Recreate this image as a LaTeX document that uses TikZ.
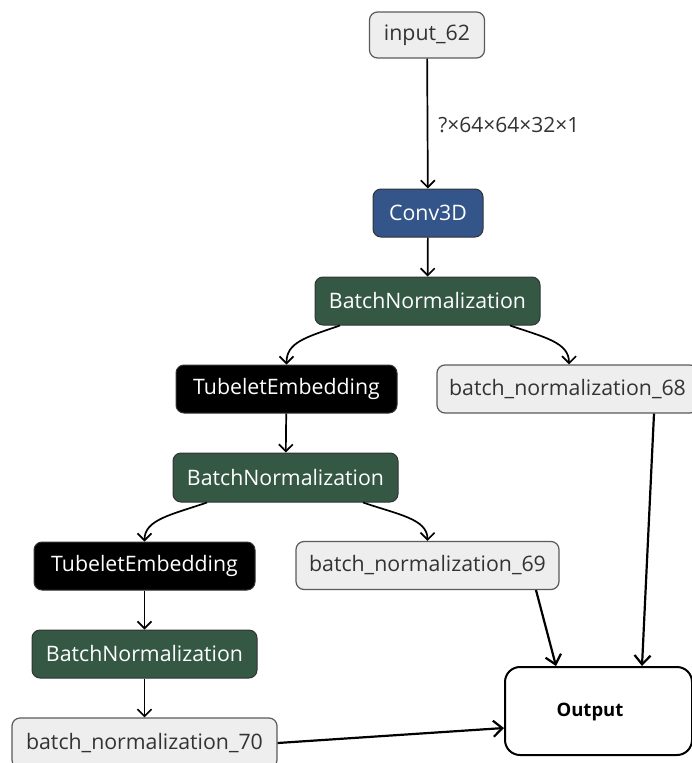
\documentclass[tikz,border=0pt]{standalone}
\usepackage{fontspec}
\setmainfont{Open Sans}
\usetikzlibrary{arrows.meta}
\definecolor{convblue}{HTML}{33558A}
\definecolor{bngreen}{HTML}{345844}
\definecolor{lightfill}{HTML}{EEEEEE}
\definecolor{edgegray}{HTML}{5A5A5A}
\definecolor{txtgray}{HTML}{333333}
\tikzset{
  nodefont/.style={font=\fontsize{21.3}{24}\selectfont},
  layer/.style={rounded corners=8pt, draw=txtgray, line width=1pt, minimum height=48pt, inner sep=0pt, text=white, nodefont},
  tensor/.style={rounded corners=8pt, draw=edgegray, fill=lightfill, line width=1.2pt, minimum height=48pt, inner sep=0pt, text=txtgray, nodefont},
  conv/.style={layer, fill=convblue, minimum width=110pt},
  bnorm/.style={layer, fill=bngreen, minimum width=225pt},
  tubelet/.style={layer, fill=black, minimum width=221pt},
  outbox/.style={rounded corners=15pt, draw=black, line width=2pt, fill=white, minimum width=187pt, minimum height=88pt, inner sep=0pt},
  flow/.style={-{Straight Barb[length=7pt,width=14pt]}, line width=1.7pt, black},
  merge/.style={-{Straight Barb[length=9pt,width=16pt]}, line width=2.2pt, black},
}
\begin{document}
\begin{tikzpicture}[x=1pt,y=-1pt]
  \useasboundingbox (0,0) rectangle (692,763);
  \clip (0,0) rectangle (692,763);

  % layer nodes
  \node[tensor, minimum width=115pt, minimum height=46pt] (inp) at (427,35) {input\_62};
  \node[conv] (conv) at (428,213) {Conv3D};
  \node[bnorm] (bn1) at (427.5,301) {BatchNormalization};
  \node[tubelet] (tub1) at (286.5,389) {TubeletEmbedding};
  \node[tensor, minimum width=261pt] (bn68) at (567.5,389) {batch\_normalization\_68};
  \node[bnorm, minimum height=49pt] (bn2) at (285.5,477.5) {BatchNormalization};
  \node[tubelet] (tub2) at (144.5,566) {TubeletEmbedding};
  \node[tensor, minimum width=263pt] (bn69) at (427.5,565.5) {batch\_normalization\_69};
  \node[bnorm] (bn3) at (144.5,654) {BatchNormalization};
  \node[tensor, minimum width=265pt, minimum height=50pt] (bn70) at (144.5,743) {batch\_normalization\_70};
  \node[outbox] (out) at (598.5,711) {};
  \node[font=\bfseries\fontsize{18.5}{22}\selectfont, text=black] (outlbl) at (590,712) {Output};

  % connectors
  \draw[flow] (inp) -- node[pos=0.51, right=10pt, inner sep=0pt, text=txtgray, font=\fontsize{21}{24}\selectfont] (shape) {?×64×64×32×1} (conv);
  \draw[flow] (conv) -- (bn1);
  \draw[flow] ([xshift=-87.5pt]bn1.south) .. controls +(-35,12) and +(0,-22) .. (tub1.north);
  \draw[flow] ([xshift=82.5pt]bn1.south) .. controls +(35,12) and +(0,-22) .. ([xshift=1.5pt]bn68.north);
  \draw[flow] (tub1) -- (bn2);
  \draw[flow] ([xshift=-78.5pt]bn2.south) .. controls +(-35,12) and +(0,-22) .. (tub2.north);
  \draw[flow] ([xshift=77.5pt]bn2.south) .. controls +(35,12) and +(0,-22) .. (bn69.north);
  \draw[flow] (tub2) -- (bn3);
  \draw[flow] (bn3) -- (bn70);

  \draw[merge] (bn70.east) -- ([yshift=-17pt]out.west);
  \draw[merge] ([xshift=108.5pt]bn69.south) -- ([xshift=-42.5pt]out.north);
  \draw[merge] ([xshift=86.5pt]bn68.south) -- ([xshift=43.5pt]out.north);
\end{tikzpicture}
\end{document}
